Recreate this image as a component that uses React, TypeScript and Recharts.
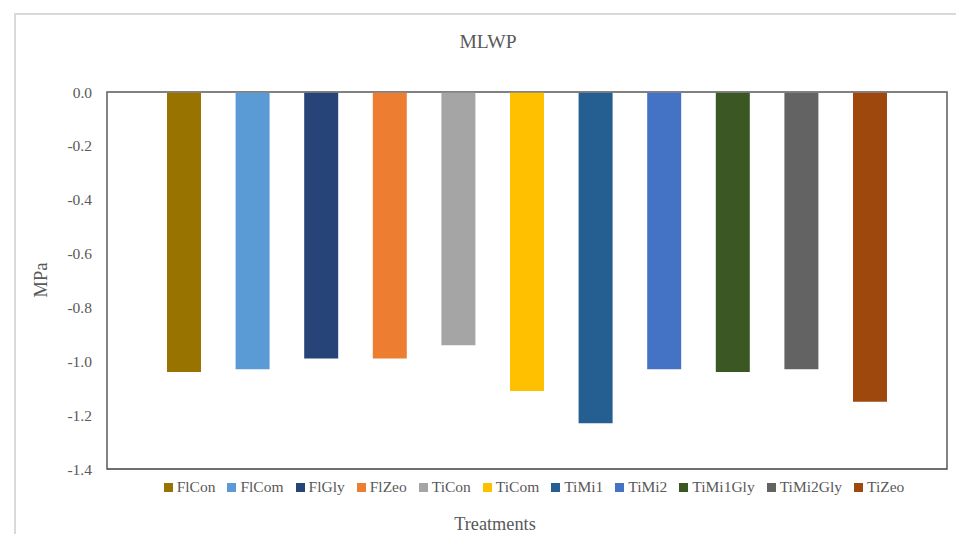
import { BarChart, Bar, XAxis, YAxis, Legend, ReferenceArea, ReferenceLine } from 'recharts'

const treatments = ['FlCon', 'FlCom', 'FlGly', 'FlZeo', 'TiCon', 'TiCom', 'TiMi1', 'TiMi2', 'TiMi1Gly', 'TiMi2Gly', 'TiZeo']
const mlwp = [-1.04, -1.03, -0.99, -0.99, -0.94, -1.11, -1.23, -1.03, -1.04, -1.03, -1.15]
const colors = ['#997300', '#5B9BD5', '#264478', '#ED7D31', '#A5A5A5', '#FFC000', '#255E91', '#4472C4', '#3B5724', '#636363', '#9E480E']
const yTicks = [0, -0.2, -0.4, -0.6, -0.8, -1.0, -1.2, -1.4]

const row: Record<string, number | string> = { name: 'MLWP' }
treatments.forEach((t, i) => { row[t] = mlwp[i] })
const data = [row]

const font = '"Liberation Serif", "Times New Roman", serif'
const grey = '#595959'

function LegendRow() {
  return (
    <div style={{ display: 'flex', justifyContent: 'center', fontFamily: font, fontSize: 15.5, color: grey, whiteSpace: 'nowrap' }}>
      {treatments.map((t, i) => (
        <span key={t} style={{ display: 'inline-flex', alignItems: 'center', marginRight: i < treatments.length - 1 ? 12 : 0 }}>
          <span style={{ width: 9, height: 9, background: colors[i], marginRight: 4 }} />
          {t}
        </span>
      ))}
    </div>
  )
}

export default function App() {
  return (
    <div style={{ position: 'absolute', left: 0, top: 0, width: 956, height: 534, overflow: 'hidden', background: '#fff' }}>
      <div style={{ position: 'absolute', left: 14, top: 13, width: 960, height: 600, border: '2px solid #D9D9D9' }} />
      <BarChart width={956} height={534} data={data} margin={{ top: 92, right: 9, bottom: 65, left: 47 }} barSize={34} barGap={34.6}>
        <XAxis dataKey="name" hide />
        <YAxis
          width={60}
          domain={[-1.4, 0]}
          ticks={yTicks}
          interval={0}
          tickFormatter={(v: number) => v.toFixed(1)}
          axisLine={false}
          tickLine={false}
          tickMargin={9}
          tick={{ fill: grey, fontSize: 15.5, fontFamily: font }}
        />
        {/* plot frame, then bars, then the zero line on top */}
        <ReferenceArea y1={-1.4} y2={0} fill="none" stroke="#404040" strokeWidth={1.3} />
        {treatments.map((t, i) => (
          <Bar key={t} dataKey={t} fill={colors[i]} isAnimationActive={false} />
        ))}
        <ReferenceLine y={0} stroke="#878787" strokeWidth={1.6} />
        <Legend
          layout="horizontal"
          verticalAlign="middle"
          align="center"
          wrapperStyle={{ top: 478, left: 112, width: 844 }}
          content={() => <LegendRow />}
        />
        <text x={488} y={48} textAnchor="middle" fill={grey} fontSize={19.5} fontFamily={font}>MLWP</text>
        <text x={47} y={280} textAnchor="middle" fill={grey} fontSize={18.5} fontFamily={font} transform="rotate(-90 47 280)">MPa</text>
        <text x={495} y={530} textAnchor="middle" fill={grey} fontSize={18.3} fontFamily={font}>Treatments</text>
      </BarChart>
    </div>
  )
}
